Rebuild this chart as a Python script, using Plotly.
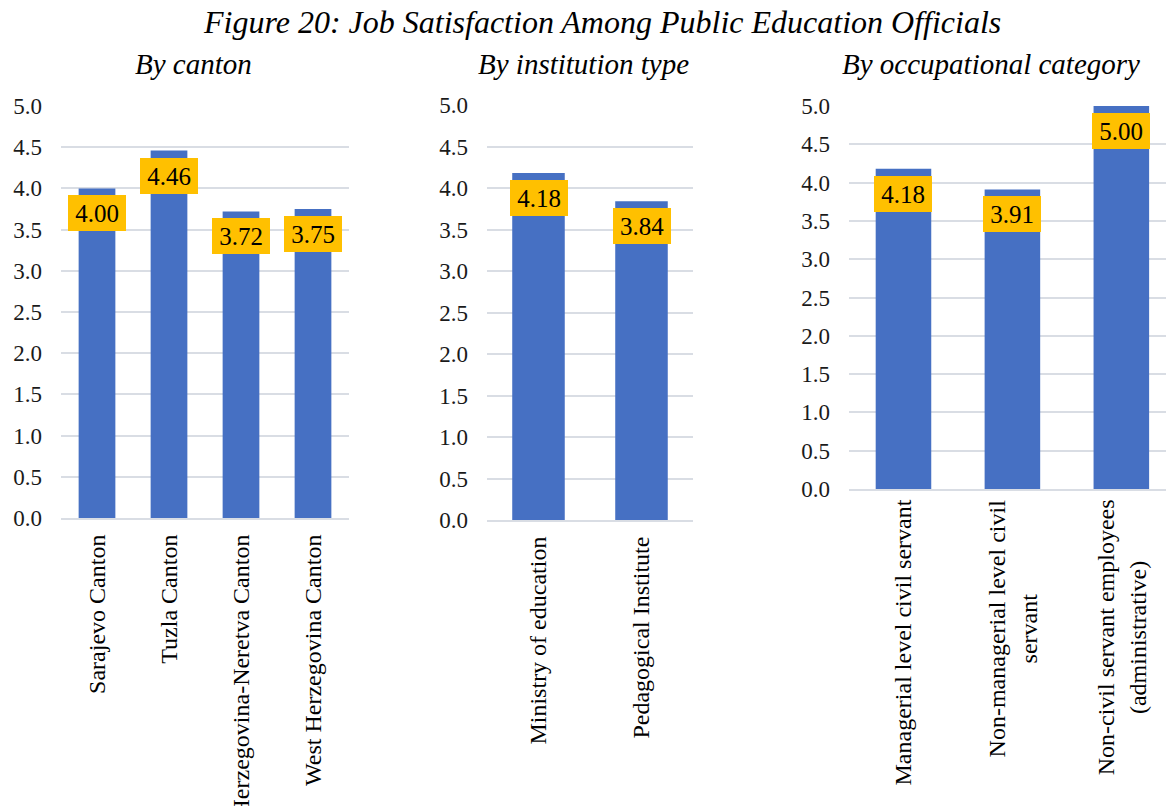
import plotly.graph_objects as go

# Job satisfaction scores (1-5 scale)
canton_labels = ["Sarajevo Canton", "Tuzla Canton", "Herzegovina-Neretva Canton", "West Herzegovina Canton"]
canton_values = [4.00, 4.46, 3.72, 3.75]

institution_labels = ["Ministry of education", "Pedagogical Institute"]
institution_values = [4.18, 3.84]

occupation_labels = [
    "Managerial level civil servant",
    "Non-managerial level civil<br>servant",
    "Non-civil servant employees<br>(administrative)",
]
occupation_values = [4.18, 3.91, 5.00]

y_ticks = [0.0, 0.5, 1.0, 1.5, 2.0, 2.5, 3.0, 3.5, 4.0, 4.5, 5.0]

W, H = 1166, 806
SERIF = "Liberation Serif, Times New Roman, serif"
BAR = "#4670C3"
LABEL_BG = "#FFC000"
GRID = "#D9DDE4"
XFONT = 24

fig = go.Figure()

panels = [
    # (labels, values, x-axis id, y-axis id, x px span, y px (zero, five), x range end, centred multi-line labels)
    (canton_labels, canton_values, "x", "y", (61, 349), (518, 106), None, False),
    (institution_labels, institution_values, "x2", "y2", (487, 693), (520, 105), None, False),
    (occupation_labels, occupation_values, "x3", "y3", (849, 1166), (489, 106), 2.41, True),
]

for i, (labels, values, xa, ya, (x0, x1), (yz, yt), xend, centred) in enumerate(panels):
    fig.add_trace(go.Bar(
        x=labels, y=values, xaxis=xa, yaxis=ya,
        marker=dict(color=BAR, line=dict(width=0)),
        width=0.51, showlegend=False, hoverinfo="skip",
    ))
    suffix = "" if i == 0 else str(i + 1)
    xrange = [-0.5, (len(labels) - 0.5) if xend is None else xend]
    fig.layout["xaxis" + suffix] = dict(
        domain=[x0 / W, x1 / W], anchor=ya, automargin=False,
        type="category", range=xrange,
        tickangle=-90, ticks="", showgrid=False,
        showline=True, linecolor=GRID, linewidth=2,
        showticklabels=not centred,
        tickfont=dict(family=SERIF, size=XFONT, color="#000000"),
        ticklabelstandoff=5,
    )
    fig.layout["yaxis" + suffix] = dict(
        domain=[(H - yz) / H, (H - yt) / H], anchor=xa, automargin=False,
        range=[0, 5], tickvals=y_ticks,
        ticktext=[f"{v:.1f}" for v in y_ticks],
        showgrid=True, gridcolor=GRID, gridwidth=2,
        zeroline=False, showline=False, ticks="",
        tickfont=dict(family=SERIF, size=23, color="#1a1a1a"),
        ticklabelstandoff=18,
    )
    if centred:
        # wrapped category names, each line centred on the others
        for lab in labels:
            fig.add_annotation(
                x=lab, xref=xa, y=(H - yz - 8) / H, yref="paper",
                text=lab, textangle=-90, align="center",
                showarrow=False, xanchor="center", yanchor="top",
                font=dict(family=SERIF, size=XFONT, color="#000000"),
            )
    for lab, v in zip(labels, values):
        fig.add_annotation(
            x=lab, y=v, xref=xa, yref=ya,
            text=f"{v:.2f}", showarrow=False,
            yanchor="top", yshift=-7,
            width=48, height=26, borderpad=4, borderwidth=1,
            bgcolor=LABEL_BG, bordercolor=LABEL_BG,
            font=dict(family=SERIF, size=25, color="#000000"),
        )

# Figure title and panel headings
fig.add_annotation(
    x=602 / W, y=1 - 22 / H, xref="paper", yref="paper",
    text="<i>Figure 20: Job Satisfaction Among Public Education Officials</i>",
    showarrow=False, xanchor="center", yanchor="middle",
    font=dict(family=SERIF, size=32, color="#000000"),
)
for text, cx in [("By canton", 193), ("By institution type", 583), ("By occupational category", 991)]:
    fig.add_annotation(
        x=cx / W, y=1 - 64 / H, xref="paper", yref="paper",
        text=f"<i>{text}</i>", showarrow=False,
        xanchor="center", yanchor="middle",
        font=dict(family=SERIF, size=29, color="#000000"),
    )

fig.update_layout(
    width=W, height=H,
    margin=dict(l=0, r=0, t=0, b=0),
    paper_bgcolor="#FFFFFF", plot_bgcolor="#FFFFFF",
    bargap=0.49,
)

fig.write_html("out.html")
